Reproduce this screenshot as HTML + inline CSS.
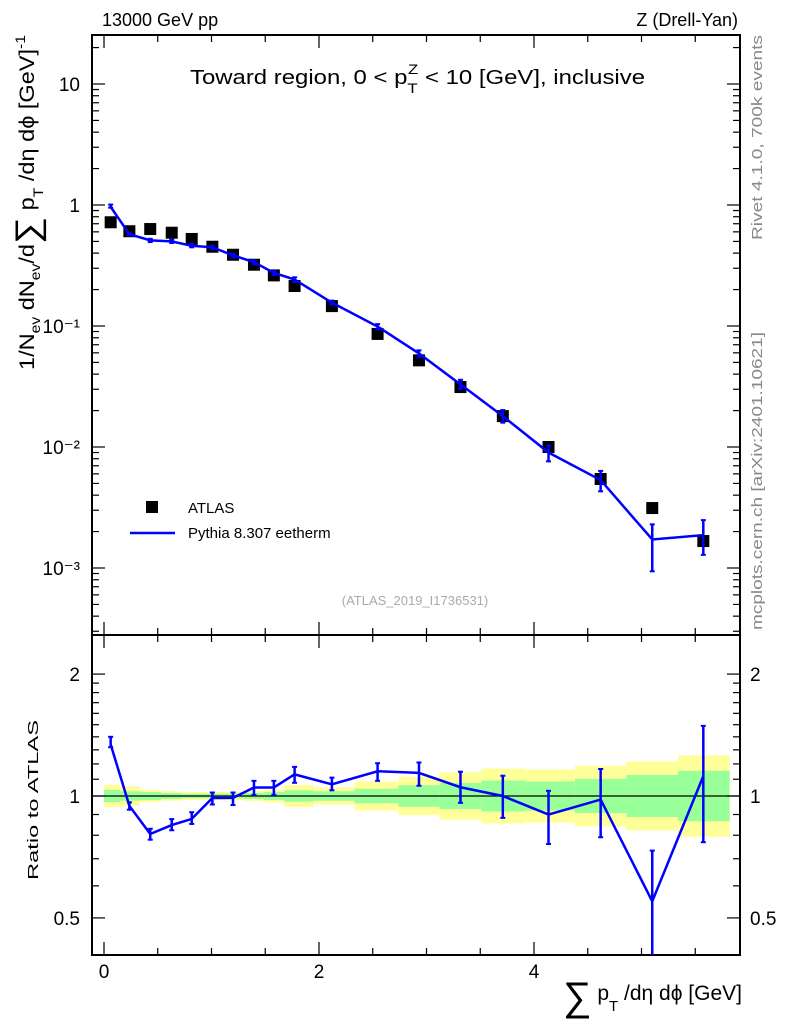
<!DOCTYPE html>
<html><head><meta charset="utf-8">
<style>
body{margin:0;background:#fff;}
svg{display:block;font-family:"Liberation Sans",Arial,sans-serif;}
</style></head>
<body>
<svg id="c" width="786" height="1024" viewBox="0 0 786 1024" xmlns="http://www.w3.org/2000/svg">
<text x="102" y="26" font-size="18">13000 GeV pp</text>
<text x="738" y="26" font-size="18" text-anchor="end">Z (Drell-Yan)</text>
<text x="190" y="84" font-size="20" textLength="455" lengthAdjust="spacingAndGlyphs">Toward region, 0 &lt; p<tspan font-size="14" dy="9">T</tspan><tspan font-size="14" dx="-8" dy="-19">Z</tspan><tspan dy="10"> &lt; 10 [GeV], inclusive</tspan></text>
<text transform="translate(762,240) rotate(-90)" font-size="15" fill="#888" textLength="205" lengthAdjust="spacingAndGlyphs">Rivet 4.1.0,  700k events</text>
<text transform="translate(762,630) rotate(-90)" font-size="15" fill="#888" textLength="298" lengthAdjust="spacingAndGlyphs">mcplots.cern.ch [arXiv:2401.10621]</text>
<text x="415" y="605" font-size="13" fill="#aaa" text-anchor="middle">(ATLAS_2019_I1736531)</text>
<text transform="translate(34,370) rotate(-90)" font-size="21" textLength="335" lengthAdjust="spacingAndGlyphs">1/N<tspan font-size="14" dy="6">ev</tspan><tspan dy="-6"> dN</tspan><tspan font-size="14" dy="6">ev</tspan><tspan dy="-6">/d</tspan><tspan font-size="34" dy="5">∑</tspan><tspan dy="-5"> p</tspan><tspan font-size="14" dy="9">T</tspan><tspan dy="-9"> /dη dϕ  [GeV]</tspan><tspan font-size="14" dy="-9">-1</tspan></text>
<text transform="translate(38,880) rotate(-90)" font-size="15" textLength="160" lengthAdjust="spacingAndGlyphs">Ratio to ATLAS</text>
<text x="742" y="1000" font-size="21" text-anchor="end"><tspan font-size="40" dy="10">∑</tspan><tspan dy="-10"> p</tspan><tspan font-size="15" dy="11">T</tspan><tspan dy="-11"> /dη dϕ [GeV]</tspan></text>
<g id="bands"></g>
<g id="axes"></g>
<g id="marks"></g>
<g>
<rect x="146" y="501" width="12" height="12" fill="#000"/>
<text x="188" y="513" font-size="15">ATLAS</text>
<line x1="130" y1="533" x2="175" y2="533" stroke="#0000ff" stroke-width="2.5"/>
<text x="188" y="538" font-size="15">Pythia 8.307 eetherm</text>
</g>
</svg>
<script>
const xVals=[0.062,0.236,0.43,0.63,0.816,1.008,1.2,1.395,1.58,1.773,2.12,2.545,2.93,3.316,3.71,4.135,4.62,5.1,5.575];
const binEdges=[0,0.15,0.33,0.53,0.72,0.91,1.1,1.3,1.49,1.68,1.95,2.33,2.74,3.12,3.51,3.92,4.38,4.86,5.34,5.82];
const dataVals=[0.72,0.607,0.633,0.59,0.524,0.452,0.388,0.321,0.262,0.214,0.146,0.086,0.052,0.0313,0.018,0.0100,0.00544,0.00313,0.00167];
const mcVals=[0.965,0.574,0.51,0.50,0.46,0.447,0.384,0.337,0.275,0.242,0.156,0.099,0.0593,0.0329,0.018,0.009,0.00533,0.00172,0.00187];
const ratioHi=[1.40,0.965,0.83,0.877,0.912,1.02,1.02,1.09,1.09,1.18,1.11,1.205,1.21,1.148,1.122,1.03,1.166,0.733,1.49];
const ratioLo=[1.32,0.925,0.78,0.823,0.853,0.953,0.95,1.006,1.006,1.078,1.033,1.09,1.06,0.962,0.883,0.761,0.791,0.3,0.769];
const totErr=[0.067,0.058,0.036,0.027,0.023,0.023,0.023,0.029,0.038,0.065,0.05,0.086,0.115,0.144,0.169,0.163,0.188,0.217,0.26];
const statErr=[0.035,0.027,0.023,0.017,0.013,0.013,0.013,0.017,0.023,0.033,0.027,0.042,0.063,0.077,0.092,0.086,0.102,0.127,0.154];
const mainTicks=["10","1","10⁻¹","10⁻²","10⁻³"];
const ratioTicks=[2,1,0.5];
const xTicks=[0,2,4];

const NS="http://www.w3.org/2000/svg";
const X0=92,X1=740,MT=35,MB=635,RB=955;
const sx=v=>104+107.5*v;
const sy=v=>205-121*Math.log10(v);
const sr=v=>796-405*Math.log10(v);
function mk(tag,attrs,parent){const e=document.createElementNS(NS,tag);for(const k in attrs)e.setAttribute(k,attrs[k]);parent.appendChild(e);return e;}
const bands=document.getElementById('bands'),axes=document.getElementById('axes'),marks=document.getElementById('marks');

for(let i=0;i<xVals.length;i++){
  const xa=sx(binEdges[i]),xb=sx(binEdges[i+1]);
  let r=mk('rect',{x:xa,y:sr(1+totErr[i]),width:xb-xa,height:sr(1/(1+totErr[i]))-sr(1+totErr[i]),fill:'#ffff99'},bands);
  
  
  let g=mk('rect',{x:xa,y:sr(1+statErr[i]),width:xb-xa,height:sr(1/(1+statErr[i]))-sr(1+statErr[i]),fill:'#99ff99'},bands);
  
  
}
let f1=mk('rect',{x:X0,y:MT,width:X1-X0,height:MB-MT,fill:'none',stroke:'#000','stroke-width':2},axes);


let f2=mk('rect',{x:X0,y:MB,width:X1-X0,height:RB-MB,fill:'none',stroke:'#000','stroke-width':2},axes);


let one=mk('line',{x1:X0,x2:X1,y1:sr(1),y2:sr(1),stroke:'#000','stroke-width':1.2},axes);


for(let d=-4;d<=1;d++){
  for(let m=1;m<10;m++){
    const v=m*Math.pow(10,d);const y=sy(v);
    if(y<MT||y>MB)continue;
    const L=m===1?13:7;
    mk('line',{x1:X0,x2:X0+L,y1:y,y2:y,stroke:'#000','stroke-width':1.2},axes);
    mk('line',{x1:X1-L,x2:X1,y1:y,y2:y,stroke:'#000','stroke-width':1.2},axes);
  }
}
for(let i=0;i<mainTicks.length;i++){
  const t=mk('text',{x:80,y:sy(Math.pow(10,1-i))+7,'font-size':19,'text-anchor':'end'},axes);
  t.textContent=mainTicks[i];
  
  
}
const rminor=[0.5,0.6,0.7,0.8,0.9,1,1.1,1.2,1.3,1.4,1.5,1.6,1.7,1.8,1.9,2];
rminor.forEach(v=>{const y=sr(v);const L=(v===0.5||v===1||v===2)?13:7;
  mk('line',{x1:X0,x2:X0+L,y1:y,y2:y,stroke:'#000','stroke-width':1.2},axes);
  mk('line',{x1:X1-L,x2:X1,y1:y,y2:y,stroke:'#000','stroke-width':1.2},axes);});
ratioTicks.forEach(v=>{
  const a=mk('text',{x:80,y:sr(v)+7,'font-size':19,'text-anchor':'end'},axes);a.textContent=String(v);
  
  
  const b=mk('text',{x:750,y:sr(v)+7,'font-size':19},axes);b.textContent=String(v);
  
  
});
for(let v=0;v<=5.5;v+=0.5){const x=sx(v);const L=(v%2===0)?13:7;
  [[MT,1],[MB,-1],[MB,1],[RB,-1]].forEach(([y0,dir])=>mk('line',{x1:x,x2:x,y1:y0,y2:y0+dir*L,stroke:'#000','stroke-width':1.2},axes));}
xTicks.forEach(v=>{const t=mk('text',{x:sx(v),y:978,'font-size':19,'text-anchor':'middle'},axes);t.textContent=String(v);
  
  });

dataVals.forEach((v,i)=>{const r=mk('rect',{x:sx(xVals[i])-6,y:sy(v)-6,width:12,height:12,fill:'#000'},marks);
  
  });
let pm=mk('polyline',{points:mcVals.map((v,i)=>sx(xVals[i])+','+sy(v)).join(' '),fill:'none',stroke:'#0000ff','stroke-width':2.5},marks);


mcVals.forEach((v,i)=>{const rc=mcVals[i]/dataVals[i];const x=sx(xVals[i]);
  const yh=sy(v*ratioHi[i]/rc),yl=sy(v*ratioLo[i]/rc);
  const e=mk('line',{x1:x,x2:x,y1:yh,y2:yl,stroke:'#0000ff','stroke-width':2.5},marks);
  
  
  mk('line',{x1:x-2.5,x2:x+2.5,y1:yh,y2:yh,stroke:'#0000ff','stroke-width':2},marks);
  mk('line',{x1:x-2.5,x2:x+2.5,y1:yl,y2:yl,stroke:'#0000ff','stroke-width':2},marks);});
const clipR=(y)=>Math.max(MB,Math.min(RB,y));
let pr=mk('polyline',{points:mcVals.map((v,i)=>sx(xVals[i])+','+clipR(sr(v/dataVals[i]))).join(' '),fill:'none',stroke:'#0000ff','stroke-width':2.5},marks);


ratioHi.forEach((h,i)=>{const x=sx(xVals[i]);const yh=clipR(sr(h)),yl=clipR(sr(ratioLo[i]));
  const e=mk('line',{x1:x,x2:x,y1:yh,y2:yl,stroke:'#0000ff','stroke-width':2.5},marks);
  
  
  if(yh>MB)mk('line',{x1:x-2.5,x2:x+2.5,y1:yh,y2:yh,stroke:'#0000ff','stroke-width':2},marks);
  if(yl<RB)mk('line',{x1:x-2.5,x2:x+2.5,y1:yl,y2:yl,stroke:'#0000ff','stroke-width':2},marks);});
</script>
</body></html>
